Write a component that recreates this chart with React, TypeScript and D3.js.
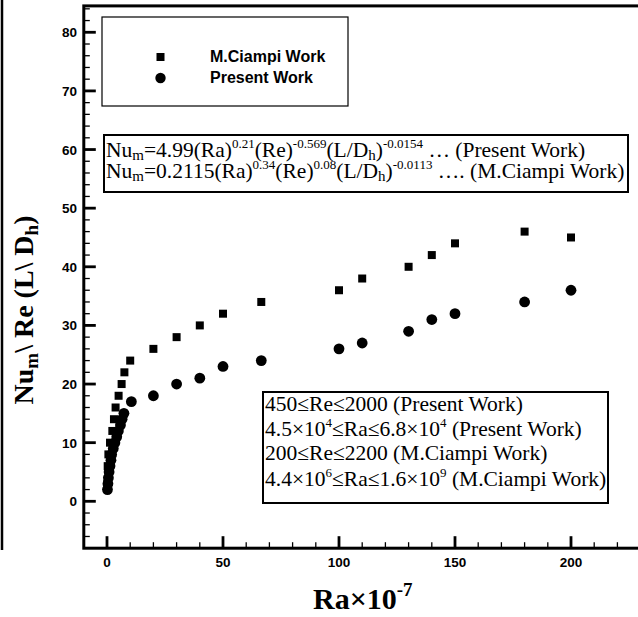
import React from 'react';
import * as d3 from 'd3';

// M.Ciampi Work (squares)
const ciampiRa = [0.1, 0.3, 0.6, 1.3, 2.3, 3.0, 3.7, 5, 6.3, 7.5, 10, 20, 30, 40, 50, 66.5, 100, 110, 130, 140, 150, 180, 200];
const ciampiNu = [3, 6, 8, 10, 12, 14, 16, 18, 20, 22, 24, 26, 28, 30, 32, 34, 36, 38, 40, 42, 44, 46, 45];
// Present Work (circles)
const presentRa = [0.2, 0.4, 0.6, 0.9, 1.3, 1.7, 2.0, 2.7, 3.4, 4.2, 4.9, 5.8, 6.5, 7.3, 10.5, 20, 30, 40, 50, 66.5, 100, 110, 130, 140, 150, 180, 200];
const presentNu = [2, 3, 4, 5, 6, 7, 8, 9, 10, 11, 12, 13, 14, 15, 17, 18, 20, 21, 23, 24, 26, 27, 29, 31, 32, 34, 36];

const xTicks = [0, 50, 100, 150, 200];
const yTicks = [0, 10, 20, 30, 40, 50, 60, 70, 80];
const legendLabels = ['M.Ciampi Work', 'Present Work'];

const serif = '"Liberation Serif", "Times New Roman", serif';
const sans = '"Liberation Sans", Arial, sans-serif';

export default function App() {
  const W = 638, H = 617;
  const x = d3.scaleLinear().domain([-10, 230]).range([83.8, 640.6]);
  const y = d3.scaleLinear().domain([-8, 84.5]).range([548.2, 5.9]);
  const xMinor = d3.range(-10, 231, 10).filter(v => v % 50 !== 0);
  const yMinor = d3.range(-8, 85, 2).filter(v => v % 10 !== 0);
  const x0 = x(-10), y0 = y(-8);

  const eqFs = 21.5;
  const supFs = 13;
  const subFs = 15;
  const rFs = 21.5;

  return (
    <svg width={W} height={H} style={{ position: 'absolute', left: 0, top: 0, background: '#fff' }}>
      <rect x={0} y={0} width={W} height={H} fill="#fff" />
      {/* outer figure border (clipped) */}
      <line x1={2} y1={0} x2={2} y2={550} stroke="#000" strokeWidth={2.5} />

      {/* frame */}
      <rect x={x0} y={y(84.5)} width={x(230) - x0} height={y0 - y(84.5)} fill="none" stroke="#000" strokeWidth={3} />

      {/* y ticks */}
      {yTicks.map(v => (
        <g key={'yt' + v}>
          <line x1={x0} x2={x0 + 12} y1={y(v)} y2={y(v)} stroke="#000" strokeWidth={2.8} />
          <text x={77} y={y(v) + 5} textAnchor="end" fontFamily={sans} fontWeight="bold" fontSize={13.5}>{v}</text>
        </g>
      ))}
      {yMinor.map(v => (
        <line key={'ym' + v} x1={x0} x2={x0 + 6} y1={y(v)} y2={y(v)} stroke="#000" strokeWidth={1.3} />
      ))}
      {/* x ticks */}
      {xTicks.map(v => (
        <g key={'xt' + v}>
          <line x1={x(v)} x2={x(v)} y1={y0} y2={y0 - 12} stroke="#000" strokeWidth={2.8} />
          <text x={x(v)} y={567} textAnchor="middle" fontFamily={sans} fontWeight="bold" fontSize={13.5}>{v}</text>
        </g>
      ))}
      {xMinor.map(v => (
        <line key={'xm' + v} x1={x(v)} x2={x(v)} y1={y0} y2={y0 - 6} stroke="#000" strokeWidth={1.3} />
      ))}

      {/* axis titles */}
      <text x={313} y={609} fontFamily={serif} fontWeight="bold" fontSize={30}>
        Ra×10<tspan fontSize={19} dy={-13}>-7</tspan>
      </text>
      <text transform="translate(33,310) rotate(-90)" textAnchor="middle" fontFamily={serif} fontWeight="bold" fontSize={28}>
        Nu<tspan fontSize={19} dy={5}>m</tspan><tspan dy={-5}>\ Re (L\ D</tspan><tspan fontSize={19} dy={5}>h</tspan><tspan dy={-5}>)</tspan>
      </text>

      {/* data */}
      {ciampiRa.map((v, i) => (
        <rect key={'c' + i} x={x(v) - 4} y={y(ciampiNu[i]) - 4} width={8} height={8} fill="#000" />
      ))}
      {presentRa.map((v, i) => (
        <circle key={'p' + i} cx={x(v)} cy={y(presentNu[i])} r={5.4} fill="#000" />
      ))}

      {/* legend */}
      <rect x={102} y={17} width={246} height={89} fill="#fff" stroke="#000" strokeWidth={1.2} />
      <rect x={156.5} y={53} width={8} height={8} fill="#000" />
      <circle cx={160.5} cy={78} r={5.2} fill="#000" />
      <text x={210} y={62} fontFamily={sans} fontWeight="bold" fontSize={16}>{legendLabels[0]}</text>
      <text x={210} y={83} fontFamily={sans} fontWeight="bold" fontSize={16}>{legendLabels[1]}</text>

      {/* equation box */}
      <rect x={104} y={135} width={524} height={57} fill="#fff" stroke="#000" strokeWidth={2} />
      <text x={106} y={157} fontFamily={serif} fontSize={eqFs}>
        Nu<tspan fontSize={subFs} dy={3}>m</tspan><tspan dy={-3}>=4.99(Ra)</tspan>
        <tspan fontSize={supFs} dy={-9}>0.21</tspan><tspan dy={9}>(Re)</tspan>
        <tspan fontSize={supFs} dy={-9}>-0.569</tspan><tspan dy={9}>(L/D</tspan>
        <tspan fontSize={subFs} dy={3}>h</tspan><tspan dy={-3}>)</tspan>
        <tspan fontSize={supFs} dy={-9}>-0.0154</tspan><tspan dy={9}> … (Present Work)</tspan>
      </text>
      <text x={106} y={178} fontFamily={serif} fontSize={eqFs}>
        Nu<tspan fontSize={subFs} dy={3}>m</tspan><tspan dy={-3}>=0.2115(Ra)</tspan>
        <tspan fontSize={supFs} dy={-9}>0.34</tspan><tspan dy={9}>(Re)</tspan>
        <tspan fontSize={supFs} dy={-9}>0.08</tspan><tspan dy={9}>(L/D</tspan>
        <tspan fontSize={subFs} dy={3}>h</tspan><tspan dy={-3}>)</tspan>
        <tspan fontSize={supFs} dy={-9}>-0.0113</tspan><tspan dy={9}>  …. (M.Ciampi Work)</tspan>
      </text>

      {/* range box */}
      <rect x={263} y={392} width={345} height={111} fill="#fff" stroke="#000" strokeWidth={2} />
      <text x={265} y={411} fontFamily={serif} fontSize={rFs}>450≤Re≤2000 (Present Work)</text>
      <text x={265} y={436} fontFamily={serif} fontSize={rFs}>
        4.5×10<tspan fontSize={supFs} dy={-9}>4</tspan><tspan dy={9}>≤Ra≤6.8×10</tspan>
        <tspan fontSize={supFs} dy={-9}>4</tspan><tspan dy={9}> (Present Work)</tspan>
      </text>
      <text x={265} y={460} fontFamily={serif} fontSize={rFs}>200≤Re≤2200 (M.Ciampi Work)</text>
      <text x={265} y={486} fontFamily={serif} fontSize={rFs}>
        4.4×10<tspan fontSize={supFs} dy={-9}>6</tspan><tspan dy={9}>≤Ra≤1.6×10</tspan>
        <tspan fontSize={supFs} dy={-9}>9</tspan><tspan dy={9}> (M.Ciampi Work)</tspan>
      </text>
    </svg>
  );
}
